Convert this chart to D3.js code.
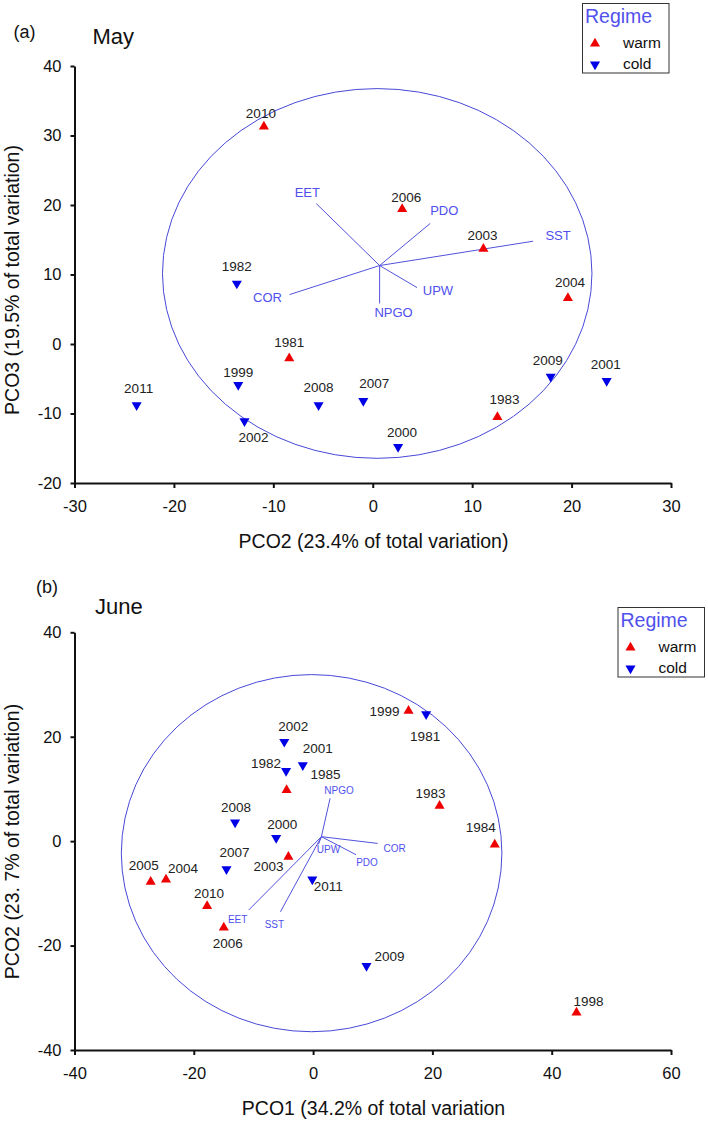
<!DOCTYPE html>
<html>
<head>
<meta charset="utf-8">
<script src="https://cdn.jsdelivr.net/npm/d3@7"></script>
<style>
  body { margin: 0; background: #fff; }
  svg { display: block; font-family: Arial, "Liberation Sans", sans-serif; }
  .axis path, .axis line { stroke: #111; stroke-width: 2; }
  .axis text { font-size: 16.5px; fill: #111; font-family: Arial, "Liberation Sans", sans-serif; }
  .year { font-size: 13.5px; fill: #222; }
  .vec { stroke: #5252dc; stroke-width: 1; }
  .vec-label { fill: #4f4fee; }
  .circle { fill: none; stroke: #4848d8; stroke-width: 1; }
  .axis-title { font-size: 19.5px; fill: #111; }
  .panel-tag { font-size: 18px; fill: #111; }
  .panel-title { font-size: 22px; fill: #111; }
</style>
</head>
<body>
<svg id="chart"></svg>
<script>
// ---- data ----
var mayYears  = [2010, 2006, 2003, 1982, 2004, 1981, 1999, 2011, 2008, 2007, 2002, 2000, 1983, 2009, 2001];
var mayRegime = ["warm", "warm", "warm", "cold", "warm", "warm", "cold", "cold", "cold", "cold", "cold", "cold", "warm", "cold", "cold"];
var mayPCO2   = [-10.95, 2.96, 11.13, -13.67, 19.63, -8.4, -13.53, -23.75, -5.45, -0.95, -12.9, 2.55, 12.54, 17.9, 23.53];
var mayPCO3   = [31.3, 19.4, 13.7, 8.7, 6.6, -2.06, -5.9, -8.8, -8.8, -8.2, -11.1, -14.8, -10.5, -4.7, -5.3];

var mayVectors = ["EET", "PDO", "SST", "COR", "UPW", "NPGO"];
var mayVecX    = [-5.68, 5.78, 16.13, -8.37, 4.45, 0.69];
var mayVecY    = [20.2, 17.35, 14.79, 7.11, 8.12, 5.82];
var mayOrigin  = [0.69, 11.29];
var mayCircle  = [0.45, 10.15, 21.6, 26.6];   // cx, cy, rx, ry in axis units

var mayXTicks = [-30, -20, -10, 0, 10, 20, 30];
var mayYTicks = [-20, -10, 0, 10, 20, 30, 40];

var juneYears  = [1999, 1981, 2002, 2001, 1982, 1985, 1983, 1984, 2008, 2000, 2007, 2003, 2005, 2004, 2011, 2010, 2006, 2009, 1998];
var juneRegime = ["warm", "cold", "cold", "cold", "cold", "warm", "warm", "warm", "cold", "cold", "cold", "warm", "warm", "warm", "cold", "warm", "warm", "cold", "warm"];
var junePCO1   = [16.0, 18.95, -4.83, -1.73, -4.53, -4.44, 21.2, 30.45, -13.08, -6.19, -14.52, -4.14, -27.23, -24.66, -0.13, -17.77, -14.97, 8.95, 44.16];
var junePCO2   = [24.96, 24.33, 19.03, 14.56, 13.47, 9.77, 6.77, -0.64, 3.58, 0.64, -5.36, -3.0, -7.79, -7.34, -7.34, -12.45, -16.54, -23.88, -32.82];

var juneVectors = ["NPGO", "COR", "PDO", "UPW", "SST", "EET"];
var juneVecX    = [2.85, 10.83, 7.2, 0.9, -5.48, -10.8];
var juneVecY    = [8.2, -0.44, -2.6, -0.6, -13.54, -13.2];
var juneOrigin  = [1.39, 0.86];
var juneCircle  = [-0.25, -2.3, 31.9, 34.2];

var juneXTicks = [-40, -20, 0, 20, 40, 60];
var juneYTicks = [-40, -20, 0, 20, 40];

var regimes = ["warm", "cold"];

// ---- layout: label nudges in px (label centre relative to mark) ----
var mayYearNudge = {
    2010: [-3, -13], 2006: [4, -12], 2003: [-1, -14], 1982: [0, -17], 2004: [2, -16],
    1981: [0, -16], 1999: [0, -13], 2011: [2, -17], 2008: [0, -18], 2007: [11, -18],
    2002: [9, 16], 2000: [4, -15], 1983: [7, -18], 2009: [-3, -17], 2001: [-1, -17]
};
var mayVecNudge = { EET: [-9, -11], PDO: [14, -13], SST: [25, -6], COR: [-22, 3], UPW: [21, 3], NPGO: [14, 9] };

var juneYearNudge = {
    1999: [-24, 0], 1981: [-1, 22], 2002: [9, -16], 2001: [15, -17], 1982: [-20, -8],
    1985: [39, -16], 1983: [-9, -13], 1984: [-14, -17], 2008: [1, -15], 2000: [6, -14],
    2007: [8, -17], 2003: [-20, 9], 2005: [-7, -17], 2004: [17, -11], 2011: [16, 7],
    2010: [2, -13], 2006: [4, 16], 2009: [23, -10], 1998: [12, -11]
};
var juneVecNudge = { NPGO: [9, -8], COR: [17, 5], PDO: [11, 8], UPW: [10, 5], SST: [-6, 13], EET: [-11, 9] };

var W = 708, H = 1123;
var PLOT_LEFT = 74.5, PLOT_RIGHT = 671;

var COLORS = { warm: "#ee0000", cold: "#0000e6" };
var REGIME_BLUE = "#5151ee";

var svg = d3.select("#chart").attr("width", W).attr("height", H);
var triangle = d3.symbol().type(d3.symbolTriangle).size(44);

function plainNum(d) { return String(d); }

function drawPanel(o) {
    var x = d3.scaleLinear().domain(o.xDomain).range([PLOT_LEFT, PLOT_RIGHT]);
    var y = d3.scaleLinear().domain(o.yDomain).range([o.bottom, o.top]);
    var g = svg.append("g");

    g.append("g").attr("class", "axis")
        .attr("transform", "translate(0," + o.bottom + ")")
        .call(d3.axisBottom(x).tickValues(o.xTicks).tickFormat(plainNum)
            .tickSizeInner(5).tickSizeOuter(0).tickPadding(12));
    g.append("g").attr("class", "axis")
        .attr("transform", "translate(" + PLOT_LEFT + ",0)")
        .call(d3.axisLeft(y).tickValues(o.yTicks).tickFormat(plainNum)
            .tickSizeInner(4).tickSizeOuter(0).tickPadding(9));

    // correlation circle
    g.append("ellipse").attr("class", "circle")
        .attr("cx", x(o.circle[0])).attr("cy", y(o.circle[1]))
        .attr("rx", x(o.circle[2]) - x(0)).attr("ry", y(0) - y(o.circle[3]));

    // vectors
    var vecs = o.vectors.map(function(n, i) { return { name: n, x: o.vecX[i], y: o.vecY[i] }; });
    g.selectAll(".vec").data(vecs).enter().append("line").attr("class", "vec")
        .attr("x1", x(o.origin[0])).attr("y1", y(o.origin[1]))
        .attr("x2", function(d) { return x(d.x); })
        .attr("y2", function(d) { return y(d.y); });
    g.selectAll(".vec-label").data(vecs).enter().append("text").attr("class", "vec-label")
        .attr("x", function(d) { return x(d.x) + o.vecNudge[d.name][0]; })
        .attr("y", function(d) { return y(d.y) + o.vecNudge[d.name][1]; })
        .attr("dy", "0.36em")
        .attr("text-anchor", "middle")
        .style("font-size", o.vecFont + "px")
        .text(function(d) { return d.name; });

    // years
    var pts = o.years.map(function(yr, i) { return { year: yr, regime: o.regime[i], x: o.xs[i], y: o.ys[i] }; });
    g.selectAll(".pt").data(pts).enter().append("path").attr("class", "pt")
        .attr("d", triangle)
        .attr("transform", function(d) {
            return "translate(" + x(d.x) + "," + y(d.y) + ")" + (d.regime === "cold" ? " rotate(180)" : "");
        })
        .attr("fill", function(d) { return COLORS[d.regime]; });
    g.selectAll(".year").data(pts).enter().append("text").attr("class", "year")
        .attr("x", function(d) { return x(d.x) + o.yearNudge[d.year][0]; })
        .attr("y", function(d) { return y(d.y) + o.yearNudge[d.year][1]; })
        .attr("dy", "0.36em")
        .attr("text-anchor", "middle")
        .text(function(d) { return d.year; });

    // titles
    g.append("text").attr("class", "panel-tag").attr("x", o.tag[1]).attr("y", o.tag[2]).text(o.tag[0]);
    g.append("text").attr("class", "panel-title").attr("x", o.title[1]).attr("y", o.title[2]).text(o.title[0]);
    g.append("text").attr("class", "axis-title").attr("text-anchor", "middle")
        .attr("x", 373.5).attr("y", o.bottom + 65).text(o.xTitle);
    g.append("text").attr("class", "axis-title").attr("text-anchor", "middle")
        .attr("transform", "translate(18.5," + o.yTitleMid + ") rotate(-90)").text(o.yTitle);

    drawLegend(o.legend[0], o.legend[1]);
}

function drawLegend(lx, ly) {
    var g = svg.append("g").attr("transform", "translate(" + lx + "," + ly + ")");
    g.append("rect").attr("width", 86.5).attr("height", 69.5)
        .attr("fill", "#fff").attr("stroke", "#333").attr("stroke-width", 1);
    g.append("text").attr("x", 2.5).attr("y", 19.5).attr("fill", REGIME_BLUE)
        .style("font-size", "19.5px").text("Regime");
    var item = g.selectAll(".item").data(regimes).enter().append("g")
        .attr("transform", function(d, i) { return "translate(0," + (i * 21) + ")"; });
    item.append("path").attr("d", triangle)
        .attr("transform", function(d) { return "translate(12.5,40)" + (d === "cold" ? " rotate(180)" : ""); })
        .attr("fill", function(d) { return COLORS[d]; });
    item.append("text").attr("x", 40.5).attr("y", 44.5).attr("fill", "#111")
        .style("font-size", "15.5px").text(function(d) { return d; });
}

drawPanel({
    xDomain: [-30, 30], yDomain: [-20, 40], top: 66, bottom: 483,
    xTicks: mayXTicks, yTicks: mayYTicks,
    circle: mayCircle, origin: mayOrigin,
    vectors: mayVectors, vecX: mayVecX, vecY: mayVecY, vecNudge: mayVecNudge, vecFont: 13,
    years: mayYears, regime: mayRegime, xs: mayPCO2, ys: mayPCO3, yearNudge: mayYearNudge,
    tag: ["(a)", 13.5, 38], title: ["May", 92.5, 43.5],
    xTitle: "PCO2 (23.4% of total variation)",
    yTitle: "PCO3 (19.5% of total variation)", yTitleMid: 280,
    legend: [582.5, 3.5]
});

drawPanel({
    xDomain: [-40, 60], yDomain: [-40, 40], top: 632.3, bottom: 1050,
    xTicks: juneXTicks, yTicks: juneYTicks,
    circle: juneCircle, origin: juneOrigin,
    vectors: juneVectors, vecX: juneVecX, vecY: juneVecY, vecNudge: juneVecNudge, vecFont: 10,
    years: juneYears, regime: juneRegime, xs: junePCO1, ys: junePCO2, yearNudge: juneYearNudge,
    tag: ["(b)", 36, 593], title: ["June", 95, 614],
    xTitle: "PCO1 (34.2% of total variation",
    yTitle: "PCO2 (23. 7% of total variation)", yTitleMid: 841.5,
    legend: [618, 607.5]
});
</script>
</body>
</html>
